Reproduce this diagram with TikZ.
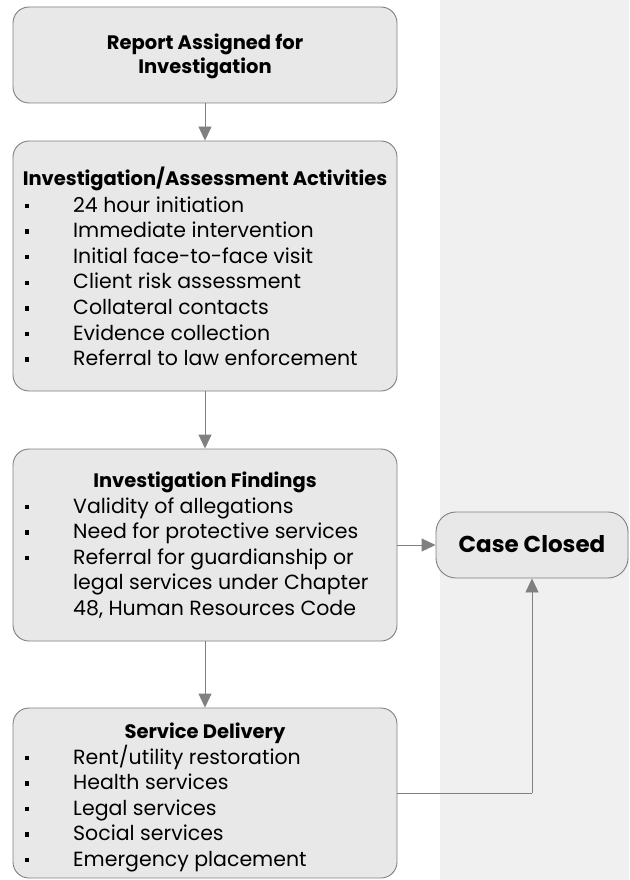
\documentclass[tikz,border=0pt]{standalone}
\usepackage{fontspec}
\setmainfont{Poppins}
\usetikzlibrary{arrows.meta}
\definecolor{edgegray}{HTML}{808080}
\definecolor{boxfill}{HTML}{E8E8E8}
\definecolor{panelgray}{HTML}{F0F0F0}
\begin{document}
\begin{tikzpicture}[x=1pt,y=-1pt,
  box/.style={draw=edgegray, fill=boxfill, rounded corners=16pt, line width=0.9pt, minimum width=384pt, inner sep=0pt},
  conn/.style={draw=edgegray, line width=0.9pt, -{Triangle[length=14pt,width=13pt]}},
  plainconn/.style={draw=edgegray, line width=0.9pt},
  title/.style={font=\fontsize{19.5}{24}\selectfont\bfseries, anchor=base, inner sep=0pt},
  item/.style={font=\fontsize{20.5}{24}\selectfont, anchor=base west, inner sep=0pt},
  bul/.style={fill=black, minimum size=4.5pt, inner sep=0pt}
]
\useasboundingbox (0,0) rectangle (629,880);
\fill[panelgray] (440,0) rectangle (629,880);

\node[box, minimum height=96pt] (b1) at (205,55) {};
\node[box, minimum height=250pt] (b2) at (205,266) {};
\node[box, minimum height=192pt] (b3) at (205,545) {};
\node[box, minimum height=170pt] (b4) at (205,793) {};
\node[box, minimum width=192pt, minimum height=66pt, rounded corners=20pt] (cc) at (532,545) {};

\node[title] (t1a) at (205,50) {Report Assigned for};
\node[title] (t1b) at (205,74) {Investigation};
\node[title] (t2) at (205,185) {Investigation/Assessment Activities};
\node[title] (t3) at (205,487) {Investigation Findings};
\node[title] (t4) at (205,738) {Service Delivery};
\node[title, font=\fontsize{23}{24}\selectfont\bfseries] (tc) at (532,552) {Case Closed};

\foreach \t [count=\i] in {24 hour initiation, Immediate intervention, Initial face-to-face visit, Client risk assessment, Collateral contacts, Evidence collection, Referral to law enforcement}{
  \node[bul] (b2d\i) at (27,{206+25.6*(\i-1)}) {};
  \node[item] (b2t\i) at (73,{212+25.6*(\i-1)}) {\t};
}
\foreach \t [count=\i] in {Validity of allegations, Need for protective services, Referral for guardianship or, legal services under Chapter, {48, Human Resources Code}}{
  \node[item] (b3t\i) at (73,{513+25.5*(\i-1)}) {\t};
}
\foreach \i in {1,2,3}{
  \node[bul] (b3d\i) at (27,{507+25.5*(\i-1)}) {};
}
\foreach \t [count=\i] in {Rent/utility restoration, Health services, Legal services, Social services, Emergency placement}{
  \node[bul] (b4d\i) at (27,{758+25.5*(\i-1)}) {};
  \node[item] (b4t\i) at (73,{764+25.5*(\i-1)}) {\t};
}

\draw[conn] (b1.south) -- (b2.north);
\draw[conn] (b2.south) -- (b3.north);
\draw[conn] (b3.south) -- (b4.north);
\draw[conn] (b3.east) -- (cc.west);
\coordinate (bend) at (cc.south |- b4.east);
\draw[plainconn] (b4.east) -- (bend);
\draw[conn] (bend) -- (cc.south);
\end{tikzpicture}
\end{document}
